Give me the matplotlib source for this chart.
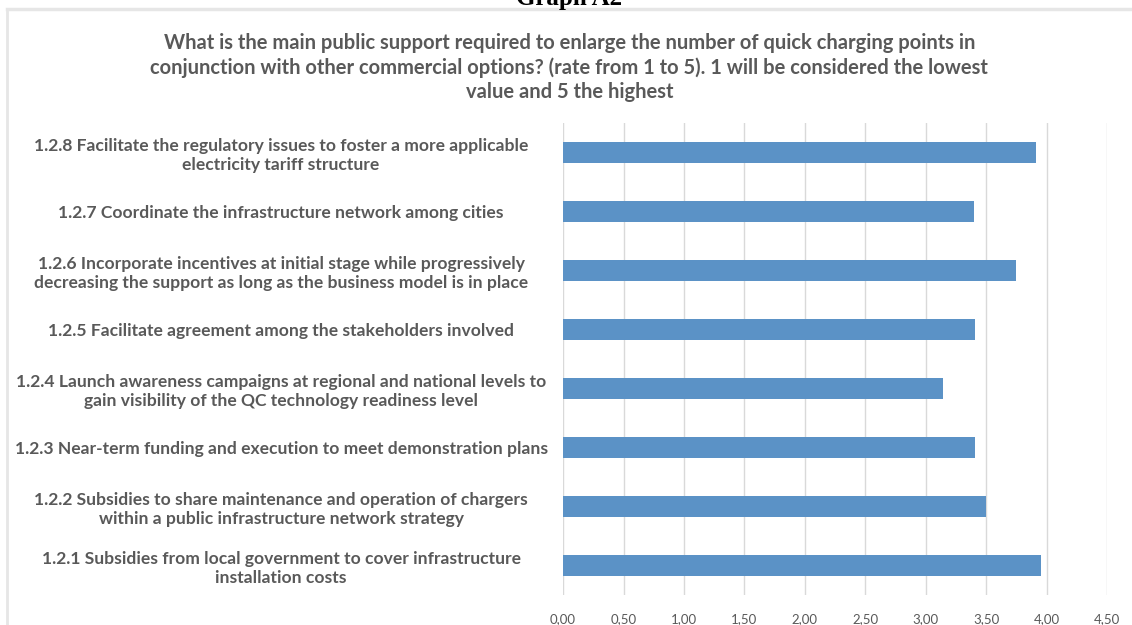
import matplotlib.pyplot as plt
from matplotlib.lines import Line2D
from matplotlib.ticker import FuncFormatter

# data, bottom to top as drawn
categories = [
    "1.2.1 Subsidies from local government to cover infrastructure\ninstallation costs",
    "1.2.2 Subsidies to share maintenance and operation of chargers\nwithin a public infrastructure network strategy",
    "1.2.3 Near-term funding and execution to meet demonstration plans",
    "1.2.4 Launch awareness campaigns at regional and national levels to\ngain visibility of the QC technology readiness level",
    "1.2.5 Facilitate agreement among the stakeholders involved",
    "1.2.6 Incorporate incentives at initial stage while progressively\ndecreasing the support as long as the business model is in place",
    "1.2.7 Coordinate the infrastructure network among cities",
    "1.2.8 Facilitate the regulatory issues to foster a more applicable\nelectricity tariff structure",
]
scores = [3.95, 3.50, 3.41, 3.14, 3.41, 3.75, 3.40, 3.91]
xticks = [0, 0.5, 1.0, 1.5, 2.0, 2.5, 3.0, 3.5, 4.0, 4.5]

title = ("What is the main public support required to enlarge the number of quick charging points in\n"
         "conjunction with other commercial options? (rate from 1 to 5). 1 will be considered the lowest\n"
         "value and 5 the highest")

plt.rcParams['font.family'] = ['Lato', 'DejaVu Sans']
grey = '#595959'

fig = plt.figure(figsize=(11.32, 6.25), dpi=100)
ax = fig.add_axes([0.4974, 0.048, 0.4806, 0.7552])

ax.barh(range(len(categories)), scores, height=0.34, color='#5B92C6', zorder=3)
ax.set_xlim(0, 4.5)
ax.set_ylim(-0.5, len(categories) - 0.5)
ax.set_xticks(xticks)
ax.xaxis.set_major_formatter(FuncFormatter(lambda v, p: f"{v:.2f}".replace('.', ',')))
ax.set_yticks(range(len(categories)))
ax.set_yticklabels(categories, ha='center', multialignment='center',
                   fontsize=12.6, fontweight='bold', color=grey, linespacing=1.25)
ax.tick_params(axis='y', length=0, pad=203)
ax.tick_params(axis='x', length=0, pad=13, labelsize=9.5, labelcolor=grey)
ax.grid(axis='x', color='#d9d9d9', linewidth=1, zorder=0)
for s in ax.spines.values():
    s.set_visible(False)

fig.text(0.503, 0.892, title, ha='center', va='center', fontsize=14.5,
         fontweight='bold', color=grey, linespacing=1.25)

# document caption, cut off above the chart frame as in the source page
fig.text(0.503, 1.003, "Graph A2", ha='center', va='center', fontsize=18,
         fontweight='bold', family='Liberation Serif', color='black')

# chart frame (top and left edges visible)
fig.add_artist(Line2D([0.006, 1.0], [0.985, 0.985], color='#e6e6e6', linewidth=2.5))
fig.add_artist(Line2D([0.006, 0.006], [0.0, 0.985], color='#e6e6e6', linewidth=2))

fig.savefig('out.png', dpi=100)
